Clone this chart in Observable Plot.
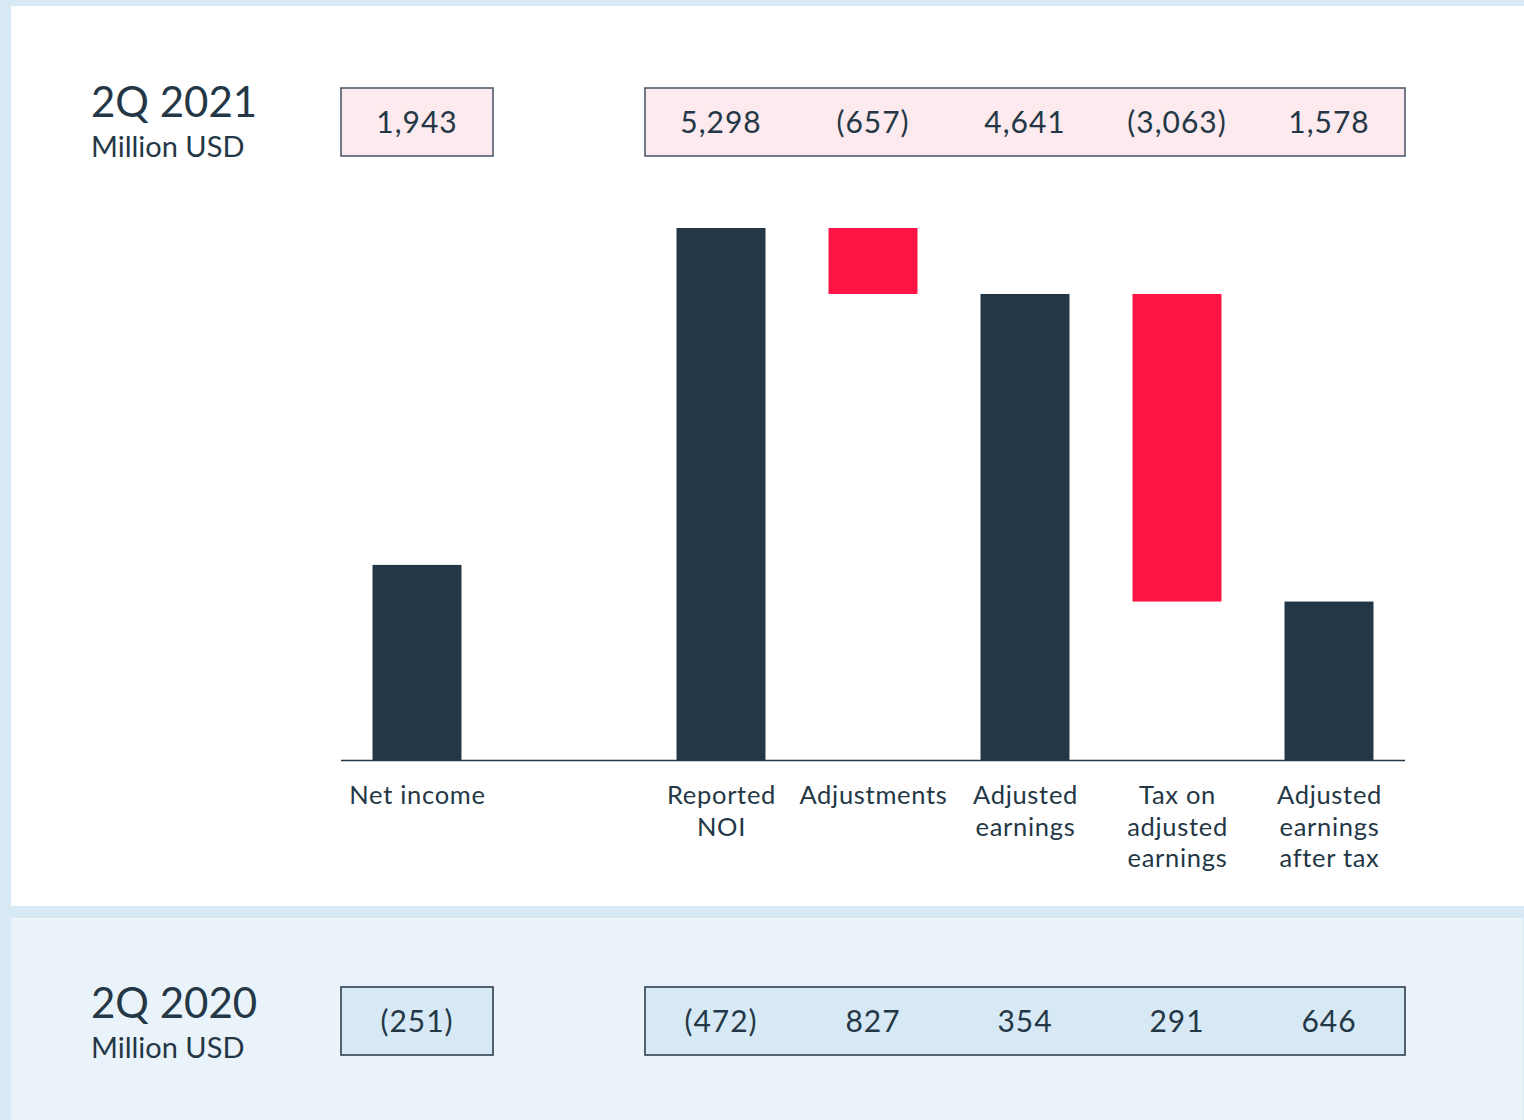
<!DOCTYPE html>
<html>
<head>
<meta charset="utf-8">
<script src="https://cdn.jsdelivr.net/npm/d3@7"></script>
<script src="https://cdn.jsdelivr.net/npm/@observablehq/plot@0.6"></script>
<style>
  html, body { margin: 0; padding: 0; }
  body { background: #d6e9f5; width: 1524px; height: 1120px; overflow: hidden; font-family: Lato, "Open Sans", sans-serif; color: #243746; }
  #page { position: relative; width: 1524px; height: 1120px; }
  .panel { position: absolute; }
  .title { position: absolute; left: 91px; font-size: 42px; line-height: 42px; white-space: nowrap; }
  .sub { position: absolute; left: 91px; font-size: 29px; line-height: 29px; white-space: nowrap; }
  #chart { position: absolute; left: 0; top: 0; }
  #chart svg g[aria-label="x-axis tick label"] text { letter-spacing: 0.7px; }
  #chart svg text.boxval { letter-spacing: 1px; }
</style>
</head>
<body>
<div id="page">
  <div class="panel" style="left:11px;top:6px;width:1513px;height:900px;background:#ffffff;"></div>
  <div class="panel" style="left:11px;top:918px;width:1512px;height:202px;background:#eaf3fa;border-top:1px solid #f6fafd;"></div>
  <div class="title" style="top:80px;">2Q 2021</div>
  <div class="sub" style="top:131px;">Million USD</div>
  <div class="title" style="top:981px;">2Q 2020</div>
  <div class="sub" style="top:1032px;">Million USD</div>
  <div id="chart"></div>
</div>
<script>
// ---- data ----
const categories = ["Net income", "_gap", "Reported NOI", "Adjustments", "Adjusted earnings", "Tax on adjusted earnings", "Adjusted earnings after tax"];
const axisLabels = ["Net income", "", "Reported\nNOI", "Adjustments", "Adjusted\nearnings", "Tax on\nadjusted\nearnings", "Adjusted\nearnings\nafter tax"];
const barCategories = ["Net income", "Reported NOI", "Adjustments", "Adjusted earnings", "Tax on adjusted earnings", "Adjusted earnings after tax"];
const values2021 = [1943, 5298, -657, 4641, -3063, 1578];
const kinds = ["total", "total", "delta", "total", "delta", "total"];
const labels2021 = ["1,943", "5,298", "(657)", "4,641", "(3,063)", "1,578"];
const labels2020 = ["(251)", "(472)", "827", "354", "291", "646"];
const boxGroups = [["Net income"], ["Reported NOI", "Adjustments", "Adjusted earnings", "Tax on adjusted earnings", "Adjusted earnings after tax"]];

const NAVY = "#243746";
const RED = "#ff1446";

// waterfall table
let running = 0;
const bars = barCategories.map((c, i) => {
  const v = values2021[i];
  let y1, y2;
  if (kinds[i] === "total") { y1 = 0; y2 = v; running = v; }
  else { y1 = running; y2 = running + v; running = running + v; }
  return {cat: c, y1, y2, kind: kinds[i]};
});

const chart = Plot.plot({
  width: 1524,
  height: 1120,
  marginLeft: 341,
  marginRight: 119,
  marginTop: 228,
  marginBottom: 360,
  style: {background: "transparent", fontFamily: "Lato, 'Open Sans', sans-serif", color: NAVY, overflow: "visible"},
  x: {domain: categories, padding: 0},
  y: {domain: [0, 5298], axis: null},
  marks: [
    Plot.barY(bars, {x: "cat", y1: "y1", y2: "y2", fill: d => d.kind === "total" ? NAVY : RED, insetLeft: 31.5, insetRight: 31.5}),
    Plot.ruleY([0], {stroke: NAVY, strokeWidth: 1.5}),
    Plot.axisX({
      tickSize: 0, tickPadding: 21, fontSize: 25.5, lineHeight: 1.24,
      tickFormat: d => axisLabels[categories.indexOf(d)],
      fill: NAVY, label: null
    })
  ]
});
document.getElementById("chart").appendChild(chart);

// value boxes drawn with the chart's own x scale
const xs = chart.scale("x");
const svg = d3.select(chart);
function drawRow(labels, top, h, fill, stroke) {
  const g = svg.append("g");
  boxGroups.forEach(group => {
    const x0 = xs.apply(group[0]);
    const x1 = xs.apply(group[group.length - 1]) + xs.bandwidth;
    g.append("rect").attr("x", x0).attr("y", top).attr("width", x1 - x0).attr("height", h)
      .attr("fill", fill).attr("stroke", stroke).attr("stroke-width", 1.6);
  });
  barCategories.forEach((c, i) => {
    g.append("text").attr("class", "boxval")
      .attr("x", xs.apply(c) + xs.bandwidth / 2).attr("y", top + h / 2)
      .attr("text-anchor", "middle").attr("dy", "0.38em")
      .attr("font-size", 30).attr("fill", NAVY)
      .attr("font-family", "Lato, 'Open Sans', sans-serif")
      .text(labels[i]);
  });
}
drawRow(labels2021, 88, 68, "#fdeaee", "#4e5d6c");
drawRow(labels2020, 987, 68, "#d6e9f5", "#2f4050");
</script>
</body>
</html>
